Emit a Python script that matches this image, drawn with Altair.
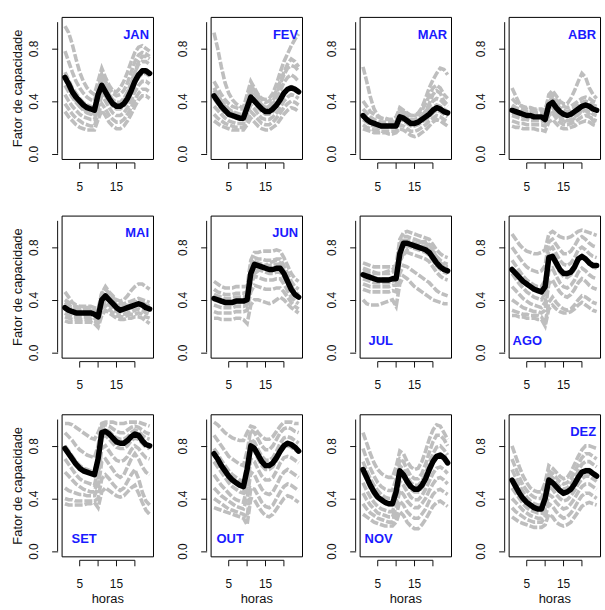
import altair as alt
import pandas as pd

MONTHS = ["JAN", "FEV", "MAR", "ABR", "MAI", "JUN", "JUL", "AGO", "SET", "OUT", "NOV", "DEZ"]
HOURS = list(range(1, 25))
X_TICKS = [5, 10, 15, 20]
X_LABELS = [5, 15]
Y_TICKS = [0.0, 0.2, 0.4, 0.6, 0.8, 1.0]

# mean curves (black)
MEAN_JAN = [0.58,0.53,0.47,0.43,0.40,0.37,0.35,0.34,0.33,0.45,0.52,0.47,0.42,0.38,0.36,0.36,0.38,0.42,0.48,0.55,0.60,0.63,0.63,0.61]
MEAN_FEV = [0.44,0.40,0.36,0.33,0.30,0.29,0.28,0.27,0.27,0.35,0.43,0.40,0.37,0.34,0.32,0.32,0.34,0.37,0.41,0.46,0.49,0.50,0.49,0.47]
MEAN_MAR = [0.29,0.26,0.24,0.23,0.22,0.21,0.21,0.21,0.21,0.21,0.28,0.27,0.25,0.23,0.23,0.24,0.26,0.28,0.30,0.33,0.35,0.34,0.32,0.31]
MEAN_ABR = [0.33,0.32,0.31,0.30,0.29,0.29,0.28,0.28,0.28,0.26,0.37,0.39,0.35,0.32,0.30,0.29,0.30,0.32,0.34,0.36,0.37,0.36,0.34,0.33]
MEAN_MAI = [0.34,0.32,0.31,0.30,0.30,0.30,0.30,0.30,0.29,0.27,0.40,0.43,0.40,0.37,0.34,0.32,0.33,0.34,0.35,0.36,0.37,0.36,0.34,0.33]
MEAN_JUN = [0.41,0.40,0.39,0.38,0.38,0.38,0.39,0.39,0.39,0.40,0.60,0.67,0.66,0.65,0.64,0.63,0.63,0.64,0.64,0.60,0.54,0.48,0.44,0.42]
MEAN_JUL = [0.59,0.58,0.57,0.56,0.55,0.55,0.55,0.55,0.56,0.56,0.75,0.83,0.83,0.82,0.81,0.80,0.79,0.78,0.76,0.72,0.68,0.65,0.63,0.62]
MEAN_AGO = [0.63,0.60,0.57,0.54,0.52,0.50,0.48,0.47,0.46,0.50,0.72,0.73,0.68,0.63,0.60,0.60,0.61,0.65,0.71,0.73,0.71,0.68,0.66,0.66]
MEAN_SET = [0.78,0.74,0.70,0.66,0.63,0.61,0.60,0.59,0.58,0.70,0.90,0.91,0.89,0.86,0.83,0.82,0.82,0.84,0.87,0.89,0.88,0.84,0.81,0.80]
MEAN_OUT = [0.74,0.70,0.65,0.61,0.57,0.54,0.52,0.50,0.49,0.62,0.80,0.78,0.73,0.68,0.65,0.65,0.67,0.71,0.76,0.80,0.82,0.81,0.79,0.76]
MEAN_NOV = [0.62,0.56,0.50,0.45,0.41,0.39,0.37,0.36,0.36,0.45,0.61,0.58,0.53,0.49,0.47,0.47,0.50,0.55,0.62,0.68,0.72,0.73,0.71,0.67]
MEAN_DEZ = [0.54,0.49,0.44,0.40,0.37,0.35,0.33,0.32,0.32,0.40,0.54,0.52,0.49,0.46,0.44,0.45,0.47,0.51,0.56,0.60,0.61,0.61,0.59,0.57]

# individual years (gray dashed)
GRAY_JAN = [
    [0.97,0.92,0.83,0.72,0.62,0.55,0.50,0.47,0.45,0.55,0.65,0.58,0.52,0.48,0.47,0.50,0.55,0.62,0.70,0.77,0.81,0.82,0.80,0.78],
    [0.78,0.70,0.62,0.55,0.50,0.46,0.43,0.41,0.40,0.50,0.60,0.55,0.50,0.46,0.44,0.45,0.48,0.54,0.62,0.70,0.75,0.77,0.76,0.74],
    [0.62,0.56,0.50,0.46,0.42,0.39,0.37,0.36,0.35,0.44,0.54,0.50,0.45,0.41,0.39,0.39,0.42,0.47,0.54,0.62,0.68,0.70,0.70,0.68],
    [0.52,0.47,0.43,0.39,0.36,0.34,0.32,0.31,0.30,0.40,0.48,0.44,0.40,0.36,0.34,0.34,0.36,0.40,0.46,0.53,0.58,0.61,0.61,0.59],
    [0.45,0.40,0.36,0.33,0.30,0.28,0.27,0.26,0.26,0.35,0.44,0.40,0.35,0.31,0.29,0.29,0.31,0.35,0.40,0.47,0.52,0.55,0.55,0.53],
    [0.38,0.34,0.30,0.27,0.25,0.23,0.22,0.21,0.21,0.30,0.38,0.34,0.29,0.26,0.24,0.24,0.26,0.30,0.35,0.41,0.46,0.49,0.49,0.47],
    [0.32,0.28,0.25,0.22,0.20,0.19,0.18,0.18,0.18,0.26,0.33,0.29,0.24,0.21,0.19,0.19,0.21,0.25,0.30,0.36,0.41,0.44,0.44,0.42],
    [0.58,0.52,0.45,0.40,0.36,0.33,0.31,0.30,0.30,0.48,0.60,0.52,0.45,0.40,0.37,0.37,0.40,0.46,0.53,0.62,0.70,0.74,0.74,0.72],
]
GRAY_FEV = [
    [0.92,0.80,0.66,0.54,0.46,0.41,0.38,0.36,0.35,0.45,0.55,0.50,0.45,0.42,0.41,0.42,0.46,0.53,0.62,0.70,0.76,0.82,0.87,0.91],
    [0.55,0.50,0.45,0.41,0.38,0.36,0.35,0.34,0.34,0.43,0.52,0.48,0.44,0.41,0.39,0.40,0.43,0.48,0.55,0.62,0.68,0.72,0.70,0.66],
    [0.48,0.44,0.40,0.37,0.34,0.32,0.31,0.30,0.30,0.39,0.47,0.44,0.40,0.37,0.35,0.35,0.38,0.42,0.48,0.54,0.58,0.60,0.58,0.55],
    [0.42,0.38,0.34,0.31,0.29,0.28,0.27,0.26,0.26,0.34,0.42,0.39,0.35,0.32,0.30,0.30,0.32,0.36,0.41,0.46,0.50,0.51,0.50,0.48],
    [0.36,0.33,0.30,0.27,0.25,0.24,0.23,0.23,0.23,0.30,0.37,0.34,0.30,0.27,0.26,0.26,0.28,0.31,0.35,0.40,0.43,0.45,0.44,0.42],
    [0.30,0.27,0.25,0.23,0.22,0.21,0.20,0.20,0.20,0.26,0.32,0.29,0.26,0.23,0.22,0.22,0.24,0.27,0.31,0.35,0.38,0.40,0.39,0.37],
    [0.25,0.23,0.21,0.20,0.19,0.18,0.18,0.18,0.18,0.22,0.27,0.24,0.21,0.19,0.18,0.18,0.20,0.22,0.26,0.30,0.33,0.35,0.34,0.32],
    [0.50,0.45,0.40,0.36,0.33,0.31,0.30,0.29,0.28,0.40,0.50,0.46,0.41,0.37,0.35,0.36,0.40,0.46,0.53,0.60,0.65,0.67,0.66,0.63],
]
GRAY_MAR = [
    [0.66,0.55,0.43,0.34,0.29,0.27,0.26,0.26,0.26,0.28,0.34,0.32,0.30,0.29,0.29,0.31,0.35,0.42,0.50,0.56,0.61,0.65,0.64,0.60],
    [0.40,0.36,0.32,0.30,0.28,0.27,0.27,0.26,0.26,0.27,0.35,0.33,0.31,0.29,0.29,0.30,0.33,0.38,0.44,0.50,0.52,0.50,0.45,0.42],
    [0.34,0.31,0.28,0.26,0.25,0.24,0.24,0.24,0.24,0.24,0.31,0.30,0.28,0.26,0.26,0.27,0.29,0.32,0.36,0.40,0.42,0.41,0.38,0.36],
    [0.30,0.27,0.25,0.23,0.22,0.22,0.22,0.22,0.22,0.22,0.29,0.28,0.26,0.24,0.24,0.25,0.27,0.29,0.32,0.35,0.37,0.36,0.34,0.32],
    [0.26,0.24,0.22,0.21,0.20,0.20,0.20,0.20,0.20,0.20,0.26,0.25,0.23,0.21,0.21,0.22,0.24,0.26,0.28,0.31,0.33,0.32,0.30,0.28],
    [0.22,0.20,0.19,0.18,0.18,0.17,0.17,0.17,0.17,0.17,0.22,0.21,0.19,0.17,0.17,0.18,0.20,0.22,0.25,0.27,0.29,0.28,0.26,0.24],
    [0.19,0.18,0.17,0.16,0.16,0.16,0.16,0.15,0.15,0.16,0.19,0.18,0.16,0.14,0.13,0.14,0.16,0.18,0.21,0.24,0.26,0.25,0.23,0.21],
    [0.28,0.26,0.24,0.23,0.22,0.21,0.21,0.21,0.21,0.22,0.33,0.31,0.27,0.25,0.24,0.25,0.28,0.32,0.38,0.45,0.48,0.46,0.40,0.37],
]
GRAY_ABR = [
    [0.50,0.44,0.38,0.35,0.34,0.33,0.33,0.33,0.33,0.32,0.45,0.48,0.44,0.40,0.38,0.38,0.42,0.48,0.55,0.61,0.58,0.50,0.45,0.42],
    [0.42,0.39,0.37,0.36,0.35,0.35,0.34,0.34,0.34,0.33,0.43,0.45,0.41,0.38,0.36,0.35,0.36,0.38,0.40,0.42,0.43,0.42,0.40,0.39],
    [0.37,0.35,0.34,0.33,0.32,0.32,0.31,0.31,0.31,0.30,0.40,0.42,0.38,0.35,0.33,0.32,0.33,0.35,0.37,0.39,0.40,0.39,0.37,0.36],
    [0.33,0.32,0.31,0.30,0.29,0.29,0.28,0.28,0.28,0.27,0.37,0.39,0.35,0.32,0.30,0.29,0.30,0.32,0.34,0.36,0.37,0.36,0.34,0.33],
    [0.29,0.28,0.27,0.26,0.26,0.25,0.25,0.25,0.25,0.24,0.33,0.35,0.31,0.28,0.26,0.25,0.26,0.28,0.30,0.32,0.33,0.32,0.30,0.29],
    [0.25,0.24,0.23,0.23,0.22,0.22,0.22,0.22,0.22,0.21,0.29,0.31,0.27,0.24,0.22,0.22,0.23,0.24,0.26,0.28,0.29,0.28,0.26,0.25],
    [0.21,0.20,0.20,0.19,0.19,0.19,0.19,0.18,0.18,0.17,0.24,0.26,0.23,0.20,0.19,0.19,0.20,0.21,0.23,0.24,0.25,0.24,0.22,0.21],
    [0.31,0.30,0.29,0.28,0.28,0.27,0.27,0.26,0.26,0.24,0.30,0.33,0.30,0.27,0.25,0.24,0.25,0.27,0.30,0.33,0.33,0.30,0.25,0.23],
]
GRAY_MAI = [
    [0.46,0.42,0.38,0.36,0.35,0.35,0.35,0.35,0.34,0.33,0.45,0.50,0.46,0.43,0.40,0.39,0.40,0.43,0.47,0.50,0.52,0.52,0.50,0.48],
    [0.40,0.38,0.36,0.35,0.34,0.34,0.34,0.34,0.33,0.31,0.45,0.48,0.45,0.42,0.39,0.37,0.37,0.38,0.39,0.40,0.41,0.40,0.39,0.38],
    [0.36,0.34,0.33,0.32,0.32,0.32,0.32,0.32,0.31,0.29,0.42,0.45,0.42,0.39,0.36,0.34,0.35,0.36,0.37,0.38,0.39,0.38,0.36,0.35],
    [0.33,0.31,0.30,0.29,0.29,0.29,0.29,0.29,0.28,0.26,0.39,0.42,0.39,0.36,0.33,0.31,0.32,0.33,0.34,0.35,0.36,0.35,0.33,0.32],
    [0.30,0.28,0.27,0.27,0.27,0.27,0.27,0.27,0.26,0.24,0.36,0.39,0.36,0.33,0.31,0.29,0.29,0.30,0.31,0.32,0.33,0.32,0.30,0.29],
    [0.27,0.26,0.25,0.25,0.25,0.25,0.25,0.25,0.24,0.22,0.33,0.36,0.33,0.30,0.28,0.27,0.27,0.28,0.29,0.29,0.30,0.29,0.27,0.26],
    [0.24,0.23,0.23,0.23,0.23,0.23,0.23,0.23,0.22,0.19,0.28,0.32,0.30,0.28,0.26,0.25,0.25,0.26,0.26,0.27,0.27,0.26,0.24,0.22],
    [0.38,0.36,0.34,0.33,0.33,0.33,0.32,0.32,0.31,0.30,0.38,0.43,0.40,0.38,0.36,0.34,0.34,0.35,0.36,0.37,0.38,0.37,0.36,0.35],
]
GRAY_JUN = [
    [0.54,0.52,0.50,0.49,0.49,0.49,0.50,0.50,0.50,0.50,0.70,0.76,0.76,0.77,0.77,0.77,0.77,0.78,0.77,0.72,0.66,0.60,0.56,0.54],
    [0.48,0.46,0.45,0.44,0.44,0.44,0.45,0.45,0.45,0.46,0.66,0.72,0.71,0.71,0.70,0.70,0.70,0.71,0.71,0.66,0.60,0.54,0.50,0.48],
    [0.44,0.43,0.42,0.41,0.41,0.41,0.42,0.42,0.42,0.43,0.62,0.69,0.68,0.67,0.66,0.66,0.66,0.67,0.67,0.62,0.56,0.50,0.46,0.44],
    [0.40,0.39,0.38,0.37,0.37,0.37,0.38,0.38,0.38,0.39,0.58,0.64,0.63,0.62,0.61,0.60,0.60,0.61,0.61,0.57,0.52,0.46,0.43,0.41],
    [0.36,0.35,0.34,0.34,0.34,0.34,0.35,0.35,0.35,0.36,0.52,0.58,0.57,0.56,0.55,0.55,0.55,0.56,0.56,0.52,0.47,0.42,0.39,0.37],
    [0.31,0.30,0.30,0.30,0.30,0.30,0.31,0.31,0.31,0.32,0.46,0.51,0.50,0.49,0.48,0.48,0.48,0.49,0.49,0.46,0.42,0.38,0.35,0.33],
    [0.26,0.26,0.25,0.25,0.25,0.25,0.26,0.26,0.25,0.22,0.36,0.40,0.40,0.39,0.38,0.37,0.38,0.40,0.42,0.40,0.37,0.34,0.32,0.30],
    [0.42,0.41,0.40,0.39,0.39,0.39,0.40,0.40,0.40,0.41,0.55,0.60,0.62,0.64,0.66,0.68,0.69,0.70,0.68,0.62,0.55,0.49,0.45,0.43],
]
GRAY_JUL = [
    [0.68,0.67,0.66,0.65,0.65,0.65,0.65,0.65,0.65,0.66,0.86,0.91,0.92,0.91,0.90,0.89,0.88,0.87,0.86,0.82,0.78,0.75,0.73,0.72],
    [0.64,0.63,0.62,0.61,0.60,0.60,0.60,0.60,0.61,0.62,0.82,0.88,0.88,0.87,0.86,0.85,0.84,0.83,0.81,0.77,0.73,0.70,0.68,0.67],
    [0.60,0.59,0.58,0.57,0.56,0.56,0.56,0.56,0.57,0.58,0.78,0.85,0.85,0.84,0.83,0.82,0.81,0.80,0.78,0.74,0.70,0.67,0.65,0.64],
    [0.56,0.55,0.54,0.53,0.53,0.53,0.53,0.53,0.54,0.55,0.74,0.81,0.81,0.80,0.79,0.78,0.77,0.76,0.74,0.70,0.66,0.63,0.61,0.60],
    [0.52,0.51,0.50,0.50,0.50,0.50,0.50,0.50,0.51,0.51,0.68,0.76,0.76,0.75,0.74,0.73,0.72,0.71,0.69,0.65,0.61,0.58,0.56,0.55],
    [0.48,0.47,0.46,0.46,0.46,0.46,0.46,0.46,0.47,0.46,0.60,0.66,0.65,0.63,0.61,0.59,0.57,0.55,0.53,0.50,0.47,0.45,0.44,0.43],
    [0.40,0.37,0.36,0.36,0.36,0.37,0.38,0.39,0.40,0.35,0.52,0.58,0.56,0.53,0.50,0.48,0.46,0.44,0.42,0.40,0.39,0.38,0.37,0.37],
    [0.62,0.61,0.60,0.60,0.60,0.60,0.61,0.62,0.63,0.64,0.70,0.74,0.78,0.80,0.82,0.83,0.84,0.84,0.82,0.78,0.72,0.68,0.66,0.65],
]
GRAY_AGO = [
    [0.90,0.86,0.82,0.79,0.77,0.76,0.75,0.75,0.76,0.78,0.90,0.92,0.90,0.88,0.87,0.87,0.88,0.90,0.92,0.93,0.92,0.91,0.90,0.89],
    [0.80,0.76,0.72,0.68,0.65,0.63,0.62,0.61,0.62,0.66,0.84,0.86,0.82,0.78,0.75,0.75,0.77,0.81,0.86,0.88,0.86,0.83,0.81,0.80],
    [0.70,0.66,0.62,0.58,0.55,0.53,0.51,0.50,0.50,0.55,0.78,0.80,0.75,0.70,0.67,0.66,0.68,0.72,0.78,0.80,0.78,0.75,0.73,0.72],
    [0.60,0.56,0.52,0.49,0.46,0.44,0.42,0.41,0.40,0.45,0.70,0.72,0.66,0.61,0.58,0.57,0.59,0.63,0.70,0.72,0.70,0.67,0.65,0.64],
    [0.50,0.47,0.44,0.41,0.39,0.37,0.36,0.35,0.34,0.38,0.62,0.64,0.58,0.53,0.50,0.49,0.51,0.55,0.61,0.64,0.62,0.59,0.57,0.56],
    [0.40,0.38,0.36,0.34,0.33,0.32,0.31,0.31,0.30,0.32,0.52,0.55,0.50,0.46,0.43,0.42,0.44,0.48,0.53,0.56,0.54,0.51,0.49,0.48],
    [0.32,0.31,0.30,0.29,0.29,0.28,0.28,0.28,0.27,0.22,0.38,0.42,0.38,0.35,0.33,0.32,0.33,0.36,0.40,0.43,0.42,0.40,0.38,0.37],
    [0.28,0.28,0.27,0.27,0.26,0.26,0.26,0.25,0.25,0.20,0.33,0.36,0.33,0.31,0.30,0.30,0.31,0.33,0.36,0.38,0.36,0.34,0.32,0.31],
]
GRAY_SET = [
    [0.97,0.97,0.96,0.94,0.92,0.90,0.88,0.86,0.85,0.90,0.97,0.98,0.98,0.98,0.97,0.97,0.97,0.98,0.98,0.98,0.98,0.97,0.96,0.95],
    [0.90,0.87,0.84,0.80,0.77,0.75,0.73,0.72,0.71,0.80,0.95,0.96,0.95,0.93,0.91,0.90,0.90,0.92,0.94,0.95,0.94,0.92,0.90,0.89],
    [0.80,0.76,0.72,0.68,0.65,0.63,0.62,0.61,0.60,0.72,0.92,0.93,0.91,0.88,0.86,0.85,0.85,0.87,0.90,0.92,0.91,0.88,0.86,0.85],
    [0.70,0.66,0.62,0.58,0.55,0.53,0.52,0.51,0.50,0.62,0.86,0.88,0.85,0.82,0.79,0.78,0.78,0.80,0.84,0.86,0.85,0.82,0.79,0.78],
    [0.60,0.57,0.54,0.51,0.49,0.47,0.46,0.45,0.45,0.55,0.78,0.80,0.76,0.72,0.69,0.68,0.69,0.72,0.77,0.80,0.78,0.74,0.71,0.70],
    [0.48,0.46,0.45,0.44,0.43,0.43,0.42,0.42,0.42,0.48,0.68,0.70,0.66,0.62,0.58,0.56,0.58,0.64,0.70,0.74,0.70,0.64,0.60,0.58],
    [0.40,0.39,0.39,0.38,0.38,0.38,0.38,0.38,0.38,0.40,0.55,0.58,0.55,0.51,0.48,0.46,0.48,0.53,0.58,0.62,0.55,0.45,0.38,0.35],
    [0.36,0.35,0.35,0.35,0.35,0.35,0.36,0.36,0.37,0.33,0.45,0.48,0.46,0.44,0.42,0.41,0.42,0.45,0.48,0.50,0.44,0.37,0.31,0.28],
]
GRAY_OUT = [
    [0.98,0.96,0.93,0.90,0.88,0.86,0.85,0.84,0.84,0.90,0.95,0.94,0.90,0.87,0.85,0.85,0.87,0.91,0.95,0.98,0.98,0.98,0.97,0.97],
    [0.88,0.84,0.80,0.76,0.72,0.70,0.68,0.66,0.65,0.76,0.92,0.90,0.85,0.80,0.77,0.77,0.80,0.85,0.90,0.93,0.94,0.93,0.91,0.90],
    [0.78,0.74,0.69,0.65,0.61,0.58,0.56,0.54,0.53,0.66,0.85,0.83,0.77,0.72,0.69,0.69,0.71,0.76,0.82,0.86,0.87,0.86,0.84,0.82],
    [0.68,0.64,0.60,0.56,0.52,0.49,0.47,0.45,0.44,0.56,0.78,0.76,0.70,0.65,0.62,0.62,0.64,0.69,0.75,0.79,0.80,0.79,0.77,0.75],
    [0.58,0.54,0.50,0.47,0.44,0.41,0.39,0.38,0.37,0.48,0.70,0.68,0.62,0.57,0.54,0.54,0.56,0.61,0.67,0.71,0.72,0.71,0.69,0.67],
    [0.48,0.45,0.42,0.40,0.38,0.36,0.34,0.33,0.32,0.40,0.60,0.58,0.52,0.47,0.44,0.43,0.45,0.50,0.56,0.60,0.62,0.60,0.58,0.56],
    [0.40,0.38,0.36,0.34,0.32,0.31,0.30,0.29,0.28,0.26,0.48,0.47,0.42,0.37,0.34,0.33,0.35,0.40,0.45,0.49,0.51,0.50,0.48,0.46],
    [0.33,0.32,0.31,0.30,0.29,0.28,0.27,0.26,0.25,0.20,0.40,0.39,0.34,0.30,0.27,0.26,0.28,0.32,0.36,0.40,0.42,0.41,0.39,0.37],
]
GRAY_NOV = [
    [0.90,0.82,0.74,0.67,0.62,0.59,0.57,0.56,0.56,0.64,0.76,0.74,0.68,0.64,0.62,0.63,0.68,0.76,0.85,0.92,0.96,0.95,0.90,0.85],
    [0.78,0.70,0.63,0.57,0.52,0.49,0.47,0.46,0.46,0.55,0.70,0.68,0.62,0.57,0.55,0.55,0.59,0.66,0.75,0.83,0.88,0.88,0.85,0.80],
    [0.68,0.61,0.55,0.50,0.46,0.43,0.41,0.40,0.40,0.49,0.65,0.62,0.57,0.52,0.50,0.50,0.53,0.59,0.67,0.74,0.79,0.80,0.77,0.73],
    [0.60,0.54,0.48,0.43,0.40,0.38,0.36,0.35,0.35,0.43,0.59,0.56,0.51,0.47,0.45,0.45,0.48,0.53,0.60,0.67,0.71,0.72,0.70,0.66],
    [0.52,0.46,0.41,0.37,0.34,0.32,0.31,0.30,0.30,0.38,0.53,0.50,0.45,0.41,0.39,0.39,0.42,0.47,0.53,0.59,0.63,0.64,0.62,0.59],
    [0.44,0.39,0.35,0.32,0.29,0.28,0.27,0.26,0.26,0.33,0.46,0.43,0.38,0.35,0.33,0.33,0.36,0.40,0.46,0.51,0.55,0.56,0.54,0.51],
    [0.36,0.32,0.29,0.27,0.25,0.24,0.23,0.22,0.22,0.27,0.38,0.35,0.30,0.27,0.25,0.25,0.28,0.32,0.38,0.43,0.46,0.47,0.45,0.43],
    [0.28,0.26,0.24,0.22,0.21,0.20,0.19,0.19,0.19,0.22,0.30,0.27,0.22,0.19,0.17,0.17,0.20,0.24,0.29,0.34,0.37,0.38,0.36,0.34],
]
GRAY_DEZ = [
    [0.80,0.72,0.64,0.57,0.52,0.48,0.46,0.45,0.45,0.52,0.65,0.63,0.60,0.57,0.55,0.56,0.60,0.66,0.72,0.77,0.80,0.80,0.79,0.78],
    [0.70,0.63,0.56,0.50,0.46,0.43,0.41,0.40,0.40,0.48,0.61,0.59,0.56,0.53,0.51,0.52,0.55,0.60,0.66,0.71,0.74,0.74,0.72,0.70],
    [0.62,0.56,0.50,0.45,0.41,0.38,0.36,0.35,0.35,0.44,0.58,0.56,0.52,0.49,0.47,0.48,0.51,0.55,0.61,0.66,0.68,0.68,0.66,0.64],
    [0.55,0.50,0.45,0.41,0.37,0.35,0.33,0.32,0.32,0.40,0.54,0.52,0.48,0.45,0.43,0.44,0.47,0.51,0.56,0.60,0.62,0.62,0.60,0.58],
    [0.48,0.44,0.40,0.36,0.33,0.31,0.30,0.29,0.29,0.36,0.49,0.47,0.43,0.40,0.38,0.39,0.42,0.46,0.51,0.55,0.57,0.57,0.55,0.53],
    [0.40,0.37,0.34,0.31,0.29,0.27,0.26,0.25,0.25,0.32,0.43,0.41,0.37,0.34,0.32,0.33,0.36,0.40,0.45,0.49,0.51,0.51,0.49,0.47],
    [0.33,0.30,0.28,0.26,0.24,0.23,0.22,0.22,0.22,0.26,0.36,0.34,0.30,0.27,0.25,0.26,0.29,0.33,0.38,0.42,0.44,0.44,0.42,0.40],
    [0.26,0.24,0.22,0.21,0.20,0.19,0.18,0.18,0.18,0.20,0.28,0.26,0.22,0.20,0.19,0.20,0.22,0.26,0.30,0.34,0.36,0.37,0.36,0.35],
]

MEAN = dict(zip(MONTHS, [MEAN_JAN, MEAN_FEV, MEAN_MAR, MEAN_ABR, MEAN_MAI, MEAN_JUN,
                         MEAN_JUL, MEAN_AGO, MEAN_SET, MEAN_OUT, MEAN_NOV, MEAN_DEZ]))
GRAY = dict(zip(MONTHS, [GRAY_JAN, GRAY_FEV, GRAY_MAR, GRAY_ABR, GRAY_MAI, GRAY_JUN,
                         GRAY_JUL, GRAY_AGO, GRAY_SET, GRAY_OUT, GRAY_NOV, GRAY_DEZ]))

# label placement (style): bottom-left months with left inset in px; others top-right
LABEL_BOTTOM = {"JUL": 9, "AGO": 4, "SET": 10, "OUT": 6, "NOV": 5}

W, H = 92, 143
FONT = "Liberation Sans"
AX_OFF = 4
TICK = 6
INK = "#111"


def panel(i, m):
    row, col = divmod(i, 4)
    gray_df = pd.DataFrame(
        [{"hora": h, "valor": v, "ano": k} for k, s in enumerate(GRAY[m]) for h, v in zip(HOURS, s)]
    )
    mean_df = pd.DataFrame({"hora": HOURS, "valor": MEAN[m]})
    lab_df = pd.DataFrame({"mes": [m]})
    xr_df = pd.DataFrame({"hora": [min(X_TICKS)], "hora_fim": [max(X_TICKS)]})
    yr_df = pd.DataFrame({"valor": [min(Y_TICKS)], "valor_fim": [max(Y_TICKS)]})
    xt_df = pd.DataFrame({"hora": X_TICKS})
    xl_df = pd.DataFrame({"hora": X_LABELS, "txt": [str(v) for v in X_LABELS]})

    xs = alt.Scale(domain=[0.08, 24.92], nice=False, zero=False)
    ys = alt.Scale(domain=[-0.04, 1.04], nice=False, zero=False)

    xaxis_kw = dict(domain=False, grid=False, ticks=False, labels=False, offset=AX_OFF)
    if row == 2:
        xaxis_kw["title"] = "horas"
        xaxis_kw["titlePadding"] = 32
    else:
        xaxis_kw["title"] = ""
    yaxis_kw = dict(
        values=Y_TICKS, domain=False, grid=False, offset=AX_OFF, tickSize=TICK,
        labelExpr="(datum.value == 0 || abs(datum.value - 0.4) < 0.001 || abs(datum.value - 0.8) < 0.001) ? format(datum.value, '.1f') : ''",
        labelAngle=270, labelAlign="center", labelBaseline="bottom", labelPadding=11,
        labelOverlap=False,
    )
    if col == 0:
        yaxis_kw["title"] = "Fator de capacidade"
        yaxis_kw["titlePadding"] = 3
    else:
        yaxis_kw["title"] = ""

    x = alt.X("hora:Q", scale=xs, axis=alt.Axis(**xaxis_kw))
    y = alt.Y("valor:Q", scale=ys, axis=alt.Axis(**yaxis_kw))

    gray = alt.Chart(gray_df).mark_line(
        color="#BEBEBE", strokeWidth=3.6, strokeDash=[8, 2]
    ).encode(x=x, y=y, detail="ano:N")
    mean = alt.Chart(mean_df).mark_line(
        color="black", strokeWidth=5.5, strokeCap="round", strokeJoin="round"
    ).encode(x="hora:Q", y="valor:Q")

    yline = alt.Chart(yr_df).mark_rule(color=INK, strokeWidth=1).encode(
        x=alt.value(-AX_OFF), y="valor:Q", y2="valor_fim:Q",
    )
    xline = alt.Chart(xr_df).mark_rule(color=INK, strokeWidth=1).encode(
        y=alt.value(H + AX_OFF), x="hora:Q", x2="hora_fim:Q",
    )
    xticks = alt.Chart(xt_df).mark_rule(color=INK, strokeWidth=1).encode(
        x="hora:Q", y=alt.value(H + AX_OFF), y2=alt.value(H + AX_OFF + TICK),
    )
    xlabels = alt.Chart(xl_df).mark_text(
        font=FONT, fontSize=12, color=INK, baseline="middle", align="center"
    ).encode(x="hora:Q", y=alt.value(H + 28), text="txt:N")

    if m in LABEL_BOTTOM:
        txt = alt.Chart(lab_df).mark_text(
            align="left", baseline="middle", font=FONT, fontWeight="bold",
            fontSize=13, color="#1a1aff"
        ).encode(x=alt.value(LABEL_BOTTOM[m]), y=alt.value(H - 17), text="mes:N")
    else:
        txt = alt.Chart(lab_df).mark_text(
            align="right", baseline="middle", font=FONT, fontWeight="bold",
            fontSize=13, color="#1a1aff"
        ).encode(x=alt.value(W - 4), y=alt.value(18), text="mes:N")

    return alt.layer(gray, mean, yline, xline, xticks, xlabels, txt).properties(width=W, height=H)


panels = [panel(i, m) for i, m in enumerate(MONTHS)]

chart = alt.ConcatChart(
    concat=panels, columns=4, spacing={"row": 57, "column": 58}, bounds="flush"
).properties(
    padding={"left": 11, "top": 14, "right": 0, "bottom": 0},
    background="white",
).configure_view(
    stroke="black", strokeWidth=1
).configure_axis(
    labelFont=FONT, labelFontSize=12, labelColor=INK,
    titleFont=FONT, titleFontSize=13, titleFontWeight="normal", titleColor=INK,
    tickColor=INK, tickWidth=1,
)

chart.save("out.html", embed_options={"renderer": "svg", "actions": False})
